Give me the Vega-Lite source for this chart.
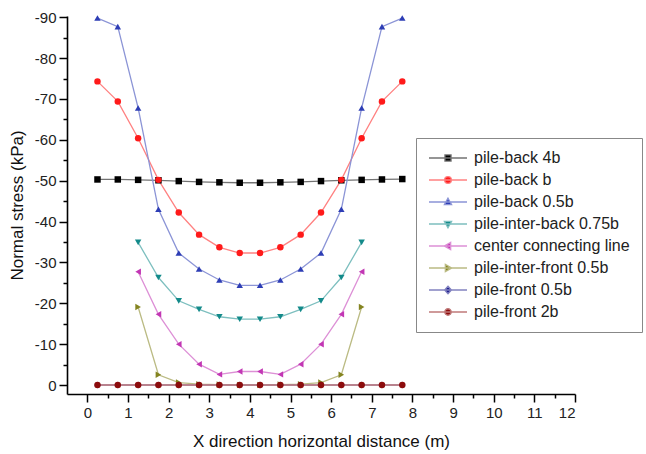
{
  "$schema": "https://vega.github.io/schema/vega-lite/v6.json",
  "width": 508,
  "height": 378,
  "autosize": {"type": "none"},
  "padding": {"left": 67, "top": 16, "right": 71, "bottom": 60},
  "background": "white",
  "config": {
    "view": {"stroke": null},
    "font": "Liberation Sans",
    "axis": {
      "grid": false,
      "domainColor": "#000",
      "domainWidth": 1.6,
      "tickColor": "#000",
      "tickWidth": 1.5,
      "labelFont": "Liberation Sans",
      "labelFontSize": 15,
      "labelColor": "#222",
      "titleFont": "Liberation Sans",
      "titleFontSize": 17,
      "titleFontWeight": "normal",
      "titleColor": "#111"
    },
    "point": {"filled": true, "size": 42, "opacity": 1}
  },
  "datasets": {
    "main": [
      {"s": "pile-back 4b", "x": 0.25, "y": -50.3}, {"s": "pile-back 4b", "x": 0.75, "y": -50.3}, {"s": "pile-back 4b", "x": 1.25, "y": -50.2}, {"s": "pile-back 4b", "x": 1.75, "y": -50.1}, {"s": "pile-back 4b", "x": 2.25, "y": -49.9}, {"s": "pile-back 4b", "x": 2.75, "y": -49.7}, {"s": "pile-back 4b", "x": 3.25, "y": -49.6}, {"s": "pile-back 4b", "x": 3.75, "y": -49.5}, {"s": "pile-back 4b", "x": 4.25, "y": -49.5}, {"s": "pile-back 4b", "x": 4.75, "y": -49.6}, {"s": "pile-back 4b", "x": 5.25, "y": -49.7}, {"s": "pile-back 4b", "x": 5.75, "y": -49.9}, {"s": "pile-back 4b", "x": 6.25, "y": -50.1}, {"s": "pile-back 4b", "x": 6.75, "y": -50.2}, {"s": "pile-back 4b", "x": 7.25, "y": -50.3}, {"s": "pile-back 4b", "x": 7.75, "y": -50.4},
      {"s": "pile-back b", "x": 0.25, "y": -74.3}, {"s": "pile-back b", "x": 0.75, "y": -69.4}, {"s": "pile-back b", "x": 1.25, "y": -60.4}, {"s": "pile-back b", "x": 1.75, "y": -50.2}, {"s": "pile-back b", "x": 2.25, "y": -42.2}, {"s": "pile-back b", "x": 2.75, "y": -36.8}, {"s": "pile-back b", "x": 3.25, "y": -33.7}, {"s": "pile-back b", "x": 3.75, "y": -32.3}, {"s": "pile-back b", "x": 4.25, "y": -32.3}, {"s": "pile-back b", "x": 4.75, "y": -33.7}, {"s": "pile-back b", "x": 5.25, "y": -36.8}, {"s": "pile-back b", "x": 5.75, "y": -42.2}, {"s": "pile-back b", "x": 6.25, "y": -50.2}, {"s": "pile-back b", "x": 6.75, "y": -60.4}, {"s": "pile-back b", "x": 7.25, "y": -69.4}, {"s": "pile-back b", "x": 7.75, "y": -74.3},
      {"s": "pile-back 0.5b", "x": 0.25, "y": -89.8}, {"s": "pile-back 0.5b", "x": 0.75, "y": -87.7}, {"s": "pile-back 0.5b", "x": 1.25, "y": -67.8}, {"s": "pile-back 0.5b", "x": 1.75, "y": -43.0}, {"s": "pile-back 0.5b", "x": 2.25, "y": -32.3}, {"s": "pile-back 0.5b", "x": 2.75, "y": -28.4}, {"s": "pile-back 0.5b", "x": 3.25, "y": -25.7}, {"s": "pile-back 0.5b", "x": 3.75, "y": -24.4}, {"s": "pile-back 0.5b", "x": 4.25, "y": -24.4}, {"s": "pile-back 0.5b", "x": 4.75, "y": -25.7}, {"s": "pile-back 0.5b", "x": 5.25, "y": -28.4}, {"s": "pile-back 0.5b", "x": 5.75, "y": -32.3}, {"s": "pile-back 0.5b", "x": 6.25, "y": -43.0}, {"s": "pile-back 0.5b", "x": 6.75, "y": -67.8}, {"s": "pile-back 0.5b", "x": 7.25, "y": -87.7}, {"s": "pile-back 0.5b", "x": 7.75, "y": -89.8},
      {"s": "pile-inter-back 0.75b", "x": 1.25, "y": -34.9}, {"s": "pile-inter-back 0.75b", "x": 1.75, "y": -26.3}, {"s": "pile-inter-back 0.75b", "x": 2.25, "y": -20.6}, {"s": "pile-inter-back 0.75b", "x": 2.75, "y": -18.5}, {"s": "pile-inter-back 0.75b", "x": 3.25, "y": -16.7}, {"s": "pile-inter-back 0.75b", "x": 3.75, "y": -16.1}, {"s": "pile-inter-back 0.75b", "x": 4.25, "y": -16.1}, {"s": "pile-inter-back 0.75b", "x": 4.75, "y": -16.7}, {"s": "pile-inter-back 0.75b", "x": 5.25, "y": -18.5}, {"s": "pile-inter-back 0.75b", "x": 5.75, "y": -20.6}, {"s": "pile-inter-back 0.75b", "x": 6.25, "y": -26.3}, {"s": "pile-inter-back 0.75b", "x": 6.75, "y": -34.9},
      {"s": "center connecting line", "x": 1.25, "y": -27.7}, {"s": "center connecting line", "x": 1.75, "y": -17.3}, {"s": "center connecting line", "x": 2.25, "y": -10.0}, {"s": "center connecting line", "x": 2.75, "y": -5.1}, {"s": "center connecting line", "x": 3.25, "y": -2.6}, {"s": "center connecting line", "x": 3.75, "y": -3.3}, {"s": "center connecting line", "x": 4.25, "y": -3.3}, {"s": "center connecting line", "x": 4.75, "y": -2.6}, {"s": "center connecting line", "x": 5.25, "y": -5.1}, {"s": "center connecting line", "x": 5.75, "y": -10.0}, {"s": "center connecting line", "x": 6.25, "y": -17.3}, {"s": "center connecting line", "x": 6.75, "y": -27.7},
      {"s": "pile-inter-front 0.5b", "x": 1.25, "y": -19.1}, {"s": "pile-inter-front 0.5b", "x": 1.75, "y": -2.5}, {"s": "pile-inter-front 0.5b", "x": 2.25, "y": -0.6}, {"s": "pile-inter-front 0.5b", "x": 2.75, "y": -0.2}, {"s": "pile-inter-front 0.5b", "x": 3.25, "y": -0.1}, {"s": "pile-inter-front 0.5b", "x": 3.75, "y": 0}, {"s": "pile-inter-front 0.5b", "x": 4.25, "y": 0}, {"s": "pile-inter-front 0.5b", "x": 4.75, "y": -0.1}, {"s": "pile-inter-front 0.5b", "x": 5.25, "y": -0.2}, {"s": "pile-inter-front 0.5b", "x": 5.75, "y": -0.6}, {"s": "pile-inter-front 0.5b", "x": 6.25, "y": -2.5}, {"s": "pile-inter-front 0.5b", "x": 6.75, "y": -19.1},
      {"s": "pile-front 0.5b", "x": 0.25, "y": 0}, {"s": "pile-front 0.5b", "x": 0.75, "y": 0}, {"s": "pile-front 0.5b", "x": 1.25, "y": 0}, {"s": "pile-front 0.5b", "x": 1.75, "y": 0}, {"s": "pile-front 0.5b", "x": 2.25, "y": 0}, {"s": "pile-front 0.5b", "x": 2.75, "y": 0}, {"s": "pile-front 0.5b", "x": 3.25, "y": 0}, {"s": "pile-front 0.5b", "x": 3.75, "y": 0}, {"s": "pile-front 0.5b", "x": 4.25, "y": 0}, {"s": "pile-front 0.5b", "x": 4.75, "y": 0}, {"s": "pile-front 0.5b", "x": 5.25, "y": 0}, {"s": "pile-front 0.5b", "x": 5.75, "y": 0}, {"s": "pile-front 0.5b", "x": 6.25, "y": 0}, {"s": "pile-front 0.5b", "x": 6.75, "y": 0}, {"s": "pile-front 0.5b", "x": 7.25, "y": 0}, {"s": "pile-front 0.5b", "x": 7.75, "y": 0},
      {"s": "pile-front 2b", "x": 0.25, "y": 0}, {"s": "pile-front 2b", "x": 0.75, "y": 0}, {"s": "pile-front 2b", "x": 1.25, "y": 0}, {"s": "pile-front 2b", "x": 1.75, "y": 0}, {"s": "pile-front 2b", "x": 2.25, "y": 0}, {"s": "pile-front 2b", "x": 2.75, "y": 0}, {"s": "pile-front 2b", "x": 3.25, "y": 0}, {"s": "pile-front 2b", "x": 3.75, "y": 0}, {"s": "pile-front 2b", "x": 4.25, "y": 0}, {"s": "pile-front 2b", "x": 4.75, "y": 0}, {"s": "pile-front 2b", "x": 5.25, "y": 0}, {"s": "pile-front 2b", "x": 5.75, "y": 0}, {"s": "pile-front 2b", "x": 6.25, "y": 0}, {"s": "pile-front 2b", "x": 6.75, "y": 0}, {"s": "pile-front 2b", "x": 7.25, "y": 0}, {"s": "pile-front 2b", "x": 7.75, "y": 0}
    ]
  },
  "data": {"name": "main"},
  "encoding": {
    "x": {"field": "x", "type": "quantitative", "scale": {"domain": [-0.5, 12], "nice": false, "zero": false}, "axis": null},
    "y": {"field": "y", "type": "quantitative", "scale": {"domain": [-90.3, 2.2], "reverse": true, "nice": false, "zero": false}, "axis": null}
  },
  "layer": [
    {
      "mark": {"type": "line", "strokeWidth": 1.3},
      "encoding": {
        "x": {"field": "x", "type": "quantitative", "scale": {"domain": [-0.5, 12], "nice": false, "zero": false},
          "axis": {"orient": "bottom", "values": [0,1,2,3,4,5,6,7,8,9,10,11,12], "tickSize": 8, "labelPadding": 3, "title": "X direction horizontal distance (m)", "titlePadding": 13}},
        "y": {"field": "y", "type": "quantitative", "scale": {"domain": [-90.3, 2.2], "reverse": true, "nice": false, "zero": false},
          "axis": {"orient": "left", "values": [-90,-80,-70,-60,-50,-40,-30,-20,-10,0], "tickSize": 8, "labelPadding": 3, "labelExpr": "datum.value < 0 ? '-' + abs(datum.value) : '0'", "title": "Normal stress (kPa)", "titlePadding": 8}},
        "stroke": {"field": "s", "type": "nominal",
          "scale": {"domain": ["pile-back 4b", "pile-back b", "pile-back 0.5b", "pile-inter-back 0.75b", "center connecting line", "pile-inter-front 0.5b", "pile-front 0.5b", "pile-front 2b"],
            "range": ["#737373", "#ff8181", "#8b94d6", "#7dbfbf", "#dd90d6", "#bbbb84", "#8282c0", "#c07979"]},
          "legend": {"orient": "none", "legendX": 349, "legendY": 122, "title": null, "symbolSize": 1444, "symbolStrokeWidth": 1.3,
            "labelFont": "Liberation Sans", "labelFontSize": 16, "labelColor": "#222", "labelLimit": 400, "labelOffset": 6,
            "rowPadding": 6, "padding": 12, "clipHeight": 16, "strokeColor": "#888", "fillColor": "white", "symbolLimit": 0}}
      }
    },
    {"transform": [{"filter": "datum.s === 'pile-back 4b'"}], "mark": {"type": "point", "shape": "square", "color": "#000000"}},
    {"transform": [{"filter": "datum.s === 'pile-back b'"}], "mark": {"type": "point", "shape": "circle", "color": "#ff1a1a"}},
    {"transform": [{"filter": "datum.s === 'pile-back 0.5b'"}], "mark": {"type": "point", "shape": "triangle-up", "color": "#2d3db5"}},
    {"transform": [{"filter": "datum.s === 'pile-inter-back 0.75b'"}], "mark": {"type": "point", "shape": "triangle-down", "color": "#138a8a"}},
    {"transform": [{"filter": "datum.s === 'center connecting line'"}], "mark": {"type": "point", "shape": "triangle-left", "color": "#c236b4"}},
    {"transform": [{"filter": "datum.s === 'pile-inter-front 0.5b'"}], "mark": {"type": "point", "shape": "triangle-right", "color": "#848420"}},
    {"transform": [{"filter": "datum.s === 'pile-front 0.5b'"}], "mark": {"type": "point", "shape": "diamond", "color": "#1c1c8c"}},
    {"transform": [{"filter": "datum.s === 'pile-front 2b'"}], "mark": {"type": "point", "shape": "circle", "color": "#8c0c0c"}},
    {
      "transform": [{"filter": "false"}],
      "mark": {"type": "point", "filled": true},
      "encoding": {
        "x": {"field": "x", "type": "quantitative", "scale": {"domain": [-0.5, 12], "nice": false, "zero": false},
          "axis": {"orient": "bottom", "values": [0.5,1.5,2.5,3.5,4.5,5.5,6.5,7.5,8.5,9.5,10.5,11.5], "tickSize": 4, "labels": false, "domain": false, "title": null}},
        "y": {"field": "y", "type": "quantitative", "scale": {"domain": [-90.3, 2.2], "reverse": true, "nice": false, "zero": false},
          "axis": {"orient": "left", "values": [-85,-75,-65,-55,-45,-35,-25,-15,-5], "tickSize": 4, "labels": false, "domain": false, "title": null}},
        "stroke": {"field": "s", "type": "nominal"},
        "shape": {"field": "s", "type": "nominal",
          "scale": {"domain": ["pile-back 4b", "pile-back b", "pile-back 0.5b", "pile-inter-back 0.75b", "center connecting line", "pile-inter-front 0.5b", "pile-front 0.5b", "pile-front 2b"],
            "range": [
              "M-1,0H1M-0.16,-0.16H0.16V0.16H-0.16Z",
              "M-1,0H1M-0.18,0A0.18,0.18 0 1,0 0.18,0A0.18,0.18 0 1,0 -0.18,0Z",
              "M-1,0H1M0,-0.2L0.19,0.14H-0.19Z",
              "M-1,0H1M0,0.2L0.19,-0.14H-0.19Z",
              "M-1,0H1M-0.2,0L0.14,-0.19V0.19Z",
              "M-1,0H1M0.2,0L-0.14,-0.19V0.19Z",
              "M-1,0H1M0,-0.2L0.18,0L0,0.2L-0.18,0Z",
              "M-1,0H1M-0.17,0A0.17,0.17 0 1,0 0.17,0A0.17,0.17 0 1,0 -0.17,0Z"
            ]},
          "legend": {"orient": "none", "legendX": 349, "legendY": 122, "title": null, "symbolSize": 1444, "symbolStrokeWidth": 1.3,
            "labelFont": "Liberation Sans", "labelFontSize": 16, "labelColor": "#222", "labelLimit": 400, "labelOffset": 6,
            "rowPadding": 6, "padding": 12, "clipHeight": 16, "strokeColor": "#888", "fillColor": "white", "symbolLimit": 0}},
        "fill": {"field": "s", "type": "nominal",
          "scale": {"domain": ["pile-back 4b", "pile-back b", "pile-back 0.5b", "pile-inter-back 0.75b", "center connecting line", "pile-inter-front 0.5b", "pile-front 0.5b", "pile-front 2b"],
            "range": ["#000000", "#ff1a1a", "#2d3db5", "#138a8a", "#c236b4", "#848420", "#1c1c8c", "#8c0c0c"]},
          "legend": {"orient": "none", "legendX": 349, "legendY": 122, "title": null, "symbolSize": 1444, "symbolStrokeWidth": 1.3,
            "labelFont": "Liberation Sans", "labelFontSize": 16, "labelColor": "#222", "labelLimit": 400, "labelOffset": 6,
            "rowPadding": 6, "padding": 12, "clipHeight": 16, "strokeColor": "#888", "fillColor": "white", "symbolLimit": 0}}
      }
    }
  ],
  "resolve": {
    "axis": {"x": "independent", "y": "independent"}
  }
}
